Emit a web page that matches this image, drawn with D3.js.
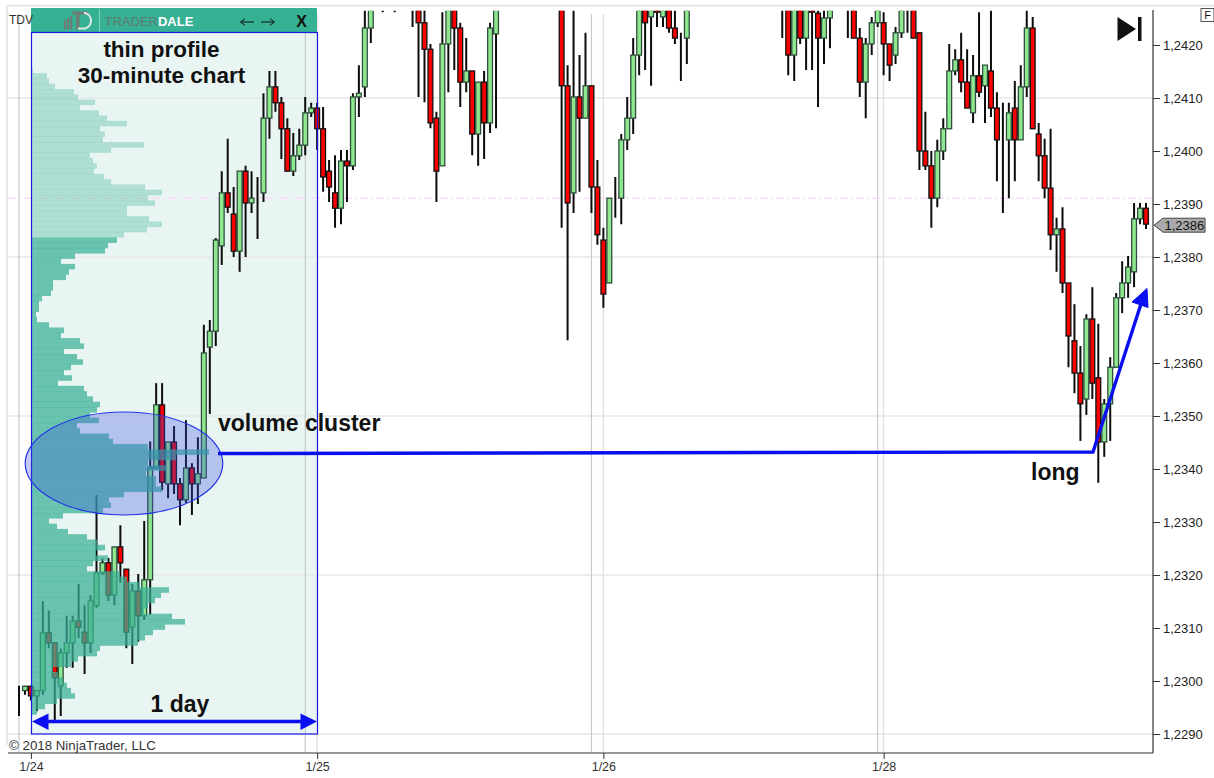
<!DOCTYPE html>
<html><head><meta charset="utf-8">
<script src="https://cdn.jsdelivr.net/npm/d3@7/dist/d3.min.js"></script>
<style>html,body{margin:0;padding:0;background:#fff;overflow:hidden}svg{display:block}text{font-family:"Liberation Sans",Arial,sans-serif}</style>
</head><body><div id="c"></div>
<script>
const N=null;
const opens=[1.22982,1.22982,1.22990,1.22972,1.22982,1.23091,1.23072,1.22991,1.23053,1.23072,
1.23113,1.23092,1.23072,1.23142,1.23204,1.23223,1.23162,1.23253,1.23211,1.23102,
1.23170,1.23123,1.23191,1.23402,1.23521,1.23372,1.23451,1.23372,1.23342,1.23402,
1.23372,1.23383,1.23630,1.23660,1.23821,1.23921,1.23881,1.23811,1.23962,1.23902,
1.23911,1.23921,1.24062,1.24121,1.24091,1.24042,1.23962,1.23991,1.24011,1.24072,
1.24081,1.24042,1.23962,1.23921,1.23892,1.23981,1.23972,1.24102,1.24121,1.24232,
N,N,N,N,N,N,N,1.2430,1.24242,1.24192,
1.24062,1.23972,1.24202,1.2430,1.24232,1.24130,1.24151,1.24032,1.24130,1.24053,
1.24221,N,N,N,N,N,N,N,N,N,
N,1.2430,1.24123,1.23921,1.24102,1.24062,1.24123,1.23932,1.23832,1.23751,
1.23911,1.23911,1.24021,1.24062,1.24181,1.2430,1.24253,1.2429,1.24253,1.2430,
1.24232,1.24213,1.24213,N,N,N,N,N,N,N,
N,N,N,N,N,N,N,N,N,1.2430,
1.24181,1.2430,1.24213,1.2428,1.24260,1.24213,1.24251,N,N,N,
1.2430,1.24213,1.24130,1.24202,1.24242,1.24242,1.24202,1.24181,1.24223,N,
1.2430,1.24223,1.24000,1.23972,1.23911,1.24000,1.24042,1.24151,1.24172,1.24130,
1.24072,1.24142,1.24123,1.24151,1.24081,1.24021,1.24021,1.24081,1.24021,1.24121,
1.24232,1.24032,1.23991,1.23930,1.23842,1.23853,1.23751,1.23642,1.23581,1.23532,
1.23683,1.23572,1.23451,1.23523,1.23592,1.23723,1.23751,1.23772,1.23872,1.23892];
const closes=[1.22982,1.22990,1.22972,1.22982,1.23091,1.23072,1.23006,1.23053,1.23072,1.23113,
1.23101,1.23072,1.23151,1.23204,1.23223,1.23162,1.23253,1.23223,1.23092,1.23170,
1.23123,1.23191,1.23402,1.23521,1.23375,1.23451,1.23372,1.23342,1.23402,1.23372,
1.23391,1.23619,1.23660,1.23832,1.23921,1.23894,1.23811,1.23962,1.23902,1.23911,
1.23911,1.24062,1.24121,1.24091,1.24042,1.23962,1.23991,1.24011,1.24072,1.24081,
1.24042,1.23951,1.23932,1.23892,1.23981,1.23972,1.24102,1.24109,1.24232,1.2430,
N,N,N,N,N,N,N,1.24242,1.24192,1.24053,
1.23962,1.24202,1.2430,1.24232,1.24130,1.24151,1.24032,1.24130,1.24053,1.24232,
1.2430,N,N,N,N,N,N,N,N,N,
N,1.24123,1.23902,1.24102,1.24062,1.24123,1.23932,1.23842,1.23730,1.23911,
1.23911,1.24021,1.24062,1.24181,1.2430,1.24242,1.2430,1.24262,1.2430,1.24232,
1.24213,1.24213,1.2430,N,N,N,N,N,N,N,
N,N,N,N,N,N,N,N,N,1.24181,
1.2430,1.24213,1.2430,1.24262,1.24213,1.24251,1.2430,N,N,N,
1.24213,1.24130,1.24202,1.24242,1.2430,1.24202,1.24162,1.24223,1.2430,N,
1.24213,1.24000,1.23972,1.23911,1.24000,1.24042,1.24151,1.24172,1.24130,1.24081,
1.24142,1.24111,1.24162,1.24081,1.24021,1.24021,1.24072,1.24021,1.24121,1.24232,
1.24042,1.23991,1.23930,1.23842,1.23853,1.23751,1.23651,1.23581,1.23523,1.23683,
1.23562,1.23451,1.23523,1.23592,1.23723,1.23751,1.23781,1.23872,1.23892,1.23862];
const highs=[1.22991,1.22991,1.22991,1.22982,1.23151,1.23133,1.23072,1.23061,1.23123,1.23123,
1.23183,1.23143,1.23162,1.23351,1.23231,1.23232,1.23253,1.23294,1.23211,1.23183,
1.23202,1.23302,1.23452,1.23562,1.23562,1.23451,1.23481,1.23383,1.23492,1.23411,
1.23460,1.23672,1.23681,1.23836,1.23962,1.24023,1.23932,1.23962,1.23972,1.23962,
1.23951,1.24109,1.24151,1.24151,1.24102,1.24062,1.24034,1.24042,1.24102,1.24091,
1.24091,1.24083,1.23983,1.23992,1.24002,1.24002,1.24109,1.24162,1.2431,1.2431,
N,1.2431,N,1.2431,N,N,1.2431,1.2431,1.2431,1.24202,
1.24074,1.24262,1.2431,1.2431,1.24242,1.24213,1.24151,1.24130,1.24151,1.24242,
1.2431,N,N,N,N,N,N,N,N,N,
N,1.2431,1.24162,1.2431,1.24181,1.24223,1.24123,1.23983,1.23855,1.23911,
1.23951,1.24032,1.24102,1.24213,1.2431,1.2431,1.2431,1.2431,1.2431,1.2431,
1.2431,1.24223,1.2431,N,N,N,N,N,N,N,
N,N,N,N,N,N,N,N,1.2431,1.2431,
1.2431,1.2431,1.2431,1.2431,1.2431,1.2431,1.2431,N,N,1.2431,
1.2431,1.24232,1.24213,1.24253,1.2431,1.24262,1.24202,1.24234,1.2431,1.2431,
1.2431,1.24223,1.24074,1.24000,1.24021,1.24062,1.24202,1.24192,1.24223,1.24192,
1.24181,1.24262,1.24162,1.2431,1.24111,1.24091,1.24091,1.24132,1.24162,1.2431,
1.24253,1.24053,1.24023,1.24042,1.23874,1.23894,1.23751,1.23711,1.23632,1.23692,
1.23743,1.23674,1.23532,1.23611,1.23732,1.23792,1.23802,1.23902,1.23902,1.23902];
const lows=[1.22934,1.22974,1.22963,1.22943,1.22974,1.23062,1.22926,1.22934,1.23025,1.23025,
1.23081,1.23013,1.23053,1.23138,1.23200,1.23151,1.23143,1.23185,1.23062,1.23032,
1.23074,1.23115,1.23125,1.23400,1.23360,1.23345,1.23353,1.23294,1.23336,1.23313,
1.23334,1.23383,1.23504,1.23632,1.23785,1.23883,1.23800,1.23772,1.23800,1.23883,
1.23834,1.23904,1.24023,1.24074,1.23985,1.23962,1.23953,1.23983,1.23992,1.24064,
1.24002,1.23923,1.23904,1.23855,1.23862,1.23904,1.23964,1.24064,1.24102,1.24204,
N,1.24262,N,1.24262,N,N,1.24234,1.24102,1.24092,1.24043,
1.23904,1.23972,1.24111,1.24153,1.24083,1.24111,1.23992,1.23972,1.23985,1.24034,
1.24043,N,N,N,N,N,N,N,N,N,
N,1.23855,1.23643,1.23883,1.23923,1.24062,1.23883,1.23823,1.23704,1.23751,
1.23874,1.23862,1.24002,1.24032,1.24143,1.24153,1.24123,1.24234,1.24234,1.24223,
1.24202,1.24132,1.24164,N,N,N,N,N,N,N,
N,N,N,N,N,N,N,N,1.24213,1.24143,
1.24132,1.24202,1.24153,1.24153,1.24083,1.24164,1.24194,N,N,1.24213,
1.24213,1.24102,1.24062,1.24181,1.24234,1.24143,1.24132,1.24164,1.24213,1.24223,
1.24213,1.23964,1.23964,1.23855,1.23894,1.23983,1.24042,1.24143,1.24111,1.24081,
1.24053,1.24102,1.24053,1.24064,1.23943,1.23883,1.23911,1.23943,1.24021,1.24102,
1.24042,1.23943,1.23911,1.23813,1.23772,1.23732,1.23592,1.23543,1.23453,1.23502,
1.23532,1.23374,1.23423,1.23453,1.23592,1.23694,1.23723,1.23743,1.23862,1.23853];
// Thin volume profile, one row per pip from the top level downwards
const profileTop=1.24157, profilePip=0.0001;
const profileEarly=[1,15,17,23,42,46,63,48,67,75,95,68,73,71,112,79,58,61,65,62,72,79,113,130,116,123,95,95,117,130,115,92];
const profileLate=[85,76,73,43,29,43,37,34,21,21,19,10,7,7,4,5,17,32,29,48,
52,32,45,51,39,32,40,26,52,55,61,68,65,58,67,45,48,77,81,116,
177,144,116,134,114,124,124,130,92,77,79,71,31,17,25,36,55,65,73,64,
76,61,55,88,95,108,137,129,123,116,112,140,153,133,121,113,106,68,65,46,
39,21,26,31,35,39,43,25,13,5];
const dateLabels=["1/24","1/25","1/26","1/28"];
const dateBars=[2,50,98,145];
const sessionBars=[0,48,96,144];
const priceTicks=d3.range(0,14).map(i=>+(1.2290+i*0.001).toFixed(4));
const gridPrices=[1.2410,1.2380,1.2350,1.2320,1.2290];
const lastPrice=1.2386, pinkPrice=1.23911;

const W=1214,H=778;
const svg=d3.select("#c").append("svg").attr("width",W).attr("height",H);
const x=d3.scaleLinear().domain([0,189]).range([19,1146]);
const y=d3.scaleLinear().domain([1.2290,1.2420]).range([734,45]);
const vol=d3.scaleLinear().domain([0,285]).range([32,317]);
const fmt=v=>v.toFixed(4).replace(".",",");

svg.append("defs").append("clipPath").attr("id","plot").append("rect").attr("x",8).attr("y",10.7).attr("width",1145).attr("height",742);

// frame
svg.append("line").attr("x1",7).attr("x2",W).attr("y1",5.7).attr("y2",5.7).attr("stroke","#e8e8e8").attr("stroke-width",2);
svg.append("line").attr("x1",7).attr("x2",7).attr("y1",5).attr("y2",745).attr("stroke","#e8e8e8").attr("stroke-width",2);

const plot=svg.append("g").attr("clip-path","url(#plot)");
// panel tint
plot.append("rect").attr("x",vol(0)-0.5).attr("y",32).attr("width",286).attr("height",702).attr("fill","#e9f5f3");
// grid
plot.selectAll(".gh").data(gridPrices).join("line").attr("x1",8).attr("x2",1153)
 .attr("y1",d=>y(d)).attr("y2",d=>y(d)).attr("stroke","#e6e8e7").attr("stroke-width",1.6);
plot.selectAll(".vs").data(sessionBars).join("line").attr("x1",d=>x(d)).attr("x2",d=>x(d)).attr("y1",14).attr("y2",753)
 .attr("stroke","#c8cbca").attr("stroke-width",1.2);
plot.selectAll(".vd").data(dateBars.slice(1)).join("line").attr("x1",d=>x(d)).attr("x2",d=>x(d)).attr("y1",14).attr("y2",753)
 .attr("stroke","#dfdfdf").attr("stroke-width",1.2);
plot.append("line").attr("x1",8).attr("x2",1153).attr("y1",y(pinkPrice)).attr("y2",y(pinkPrice))
 .attr("stroke","#fbdcf8").attr("stroke-width",1.5).attr("stroke-dasharray","8 3 2 3");

// candles
const bars=d3.range(opens.length).map(i=>({i,o:opens[i],h:highs[i],l:lows[i],c:closes[i]}));
plot.append("g").selectAll("line").data(bars.filter(d=>d.h!==N)).join("line")
 .attr("x1",d=>x(d.i)).attr("x2",d=>x(d.i)).attr("y1",d=>y(d.h)).attr("y2",d=>y(d.l))
 .attr("stroke","#0c0c0c").attr("stroke-width",2);
plot.append("g").selectAll("rect").data(bars.filter(d=>d.o!==N)).join("rect")
 .attr("x",d=>x(d.i)-2.4).attr("width",4.8)
 .attr("y",d=>y(Math.max(d.o,d.c))).attr("height",d=>Math.abs(y(d.o)-y(d.c)))
 .attr("fill",d=>d.c>=d.o?"#8fe88f":"#fb0000")
 .attr("stroke",d=>d.c>=d.o?"#2f4f3c":"#111").attr("stroke-width",1.3);

// profile
const rowsA=profileEarly.map((v,i)=>({v,i}));
const rowsB=profileLate.map((v,i)=>({v,i:i+profileEarly.length}));
const rowTop=d=>y(profileTop-d.i*profilePip);
const pipPx=y(1.2300)-y(1.2301);
plot.append("g").selectAll("rect").data(rowsA).join("rect").attr("x",vol(0)).attr("y",rowTop)
 .attr("width",d=>vol(d.v)-vol(0)).attr("height",pipPx+0.3).attr("fill","#5fbfa8").attr("fill-opacity",0.42);
plot.append("g").selectAll("rect").data(rowsB).join("rect").attr("x",vol(0)).attr("y",rowTop)
 .attr("width",d=>vol(d.v)-vol(0)).attr("height",pipPx+0.3).attr("fill","#38b094").attr("fill-opacity",0.72);

// header
svg.append("rect").attr("x",31).attr("y",8).attr("width",286).attr("height",24).attr("fill","#37b193");
const lg=svg.append("g");
[[64,20,2.2],[67,18,2.2],[70,16,2.2]].forEach(a=>lg.append("rect").attr("x",a[0]).attr("y",a[1]).attr("width",a[2]).attr("height",29.5-a[1]).attr("fill","#6f7d78"));
lg.append("rect").attr("x",72).attr("y",11.5).attr("width",16).attr("height",3).attr("fill","#6f7d78");
lg.append("rect").attr("x",76).attr("y",11.5).attr("width",3.5).attr("height",18).attr("fill","#6f7d78");
lg.append("path").attr("d","M84 13 H85 A8 8 0 0 1 85 28.500 H78").attr("fill","none").attr("stroke","#dfe9e5").attr("stroke-width",2);
svg.append("line").attr("x1",99.500).attr("x2",99.500).attr("y1",9).attr("y2",32).attr("stroke","#7fd0bc").attr("stroke-width",1);
const brand=svg.append("text").attr("x",104.500).attr("y",25.500).attr("font-size",13);
brand.append("tspan").attr("fill","#5d7a70").text("TRADER");
brand.append("tspan").attr("fill","#fff").attr("font-weight","bold").text("DALE");
[["M254 22 H241 M245 18.800 L240.500 22 L245 25.200"],["M261 22 H274 M270 18.800 L274.500 22 L270 25.200"]].forEach(d=>
 svg.append("path").attr("d",d[0]).attr("fill","none").attr("stroke","#111").attr("stroke-width",1));
svg.append("text").attr("x",301.500).attr("y",26.500).attr("text-anchor","middle").attr("font-size",16).attr("font-weight","bold").attr("fill","#111").text("X");
// panel border
svg.append("rect").attr("x",31.500).attr("y",32.500).attr("width",286).attr("height",701.500).attr("fill","none").attr("stroke","#1a1ae0").attr("stroke-width",1.2);

// ellipse
svg.append("ellipse").attr("cx",124).attr("cy",463.500).attr("rx",98.800).attr("ry",51.500)
 .attr("fill","#3c50e6").attr("fill-opacity",0.3).attr("stroke","#2233e8").attr("stroke-width",1.2);

// arrows
const blue="#0a0ff0";
svg.append("path").attr("d","M218 453.500 L1093 452 L1141 304").attr("fill","none").attr("stroke",blue).attr("stroke-width",3.4);
svg.append("path").attr("d","M1147 288.500 L1148 307.500 L1132 302 Z").attr("fill",blue).attr("stroke",blue).attr("stroke-width",1);
svg.append("line").attr("x1",40).attr("x2",310).attr("y1",721.500).attr("y2",721.500).attr("stroke",blue).attr("stroke-width",3.4);
svg.append("path").attr("d","M32 721.500 L48.500 713.500 L48.500 730 Z").attr("fill",blue);
svg.append("path").attr("d","M317 721.500 L300.500 713.500 L300.500 730 Z").attr("fill",blue);

// annotation text
const label=(t,px,py,anchor,size)=>svg.append("text").attr("x",px).attr("y",py).attr("text-anchor",anchor).attr("font-size",size).attr("font-weight","bold").attr("fill","#111").text(t);
label("thin profile",161.500,57,"middle",22.500);
label("30-minute chart",161.500,83,"middle",22.500);
label("volume cluster",218,431,"start",23);
label("long",1031,480,"start",23);
label("1 day",180,711.500,"middle",23);
svg.append("text").attr("x",9).attr("y",749.500).attr("font-size",13.300).attr("fill","#333").text("\u00a9 2018 NinjaTrader, LLC");
svg.append("text").attr("x",9).attr("y",24).attr("font-size",12).attr("fill","#333").text("TDV");

// axes
const yAxis=d3.axisRight(y).tickValues(priceTicks).tickFormat(fmt).tickSize(7).tickPadding(3);
const ya=svg.append("g").attr("transform","translate(1153,0)").call(yAxis);
ya.select(".domain").remove();
ya.selectAll("text").attr("font-size",13).attr("fill","#222").style("font-family",'"Liberation Sans",Arial,sans-serif');
ya.selectAll("line").attr("stroke","#333");
svg.append("line").attr("x1",1153).attr("x2",1153).attr("y1",10).attr("y2",753).attr("stroke","#333").attr("stroke-width",1.2);
const xAxis=d3.axisBottom(x).tickValues(dateBars).tickFormat((d,i)=>dateLabels[i]).tickSize(6).tickPadding(3);
const xa=svg.append("g").attr("transform","translate(0,753)").call(xAxis);
xa.select(".domain").remove();
xa.selectAll("text").attr("font-size",12.5).attr("fill","#333").style("font-family",'"Liberation Sans",Arial,sans-serif');
xa.selectAll("line").attr("stroke","#333");
svg.append("line").attr("x1",8).attr("x2",1153).attr("y1",753).attr("y2",753).attr("stroke","#333").attr("stroke-width",1.2);

// last price tag
const ly=y(lastPrice);
svg.append("path").attr("d",`M1154 ${ly} L1163 ${ly-7} H1205 V${ly+7} H1163 Z`).attr("fill","#aaa").attr("stroke","#444").attr("stroke-width",1);
svg.append("text").attr("x",1164.500).attr("y",ly+4.500).attr("font-size",13).attr("fill","#111").text(fmt(lastPrice));

// end-of-chart button and F box
svg.append("path").attr("d","M1117.500 17 L1136 29 L1117.500 41 Z").attr("fill","#111");
svg.append("rect").attr("x",1138).attr("y",17).attr("width",3.500).attr("height",24).attr("fill","#111");
svg.append("rect").attr("x",1201).attr("y",8.500).attr("width",13).attr("height",13).attr("fill","#fff").attr("stroke","#555");
svg.append("text").attr("x",1207.500).attr("y",19).attr("text-anchor","middle").attr("font-size",11).attr("fill","#111").text("F");
</script></body></html>
